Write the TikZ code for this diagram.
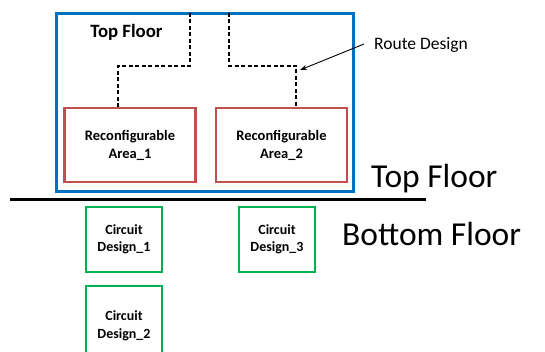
\documentclass[tikz,border=0pt]{standalone}
\usepackage{fontspec}
\setmainfont{Carlito}
\usetikzlibrary{arrows.meta}
\definecolor{floorblue}{HTML}{0070C0}
\definecolor{areared}{HTML}{C0504D}
\definecolor{circgreen}{HTML}{00B050}
\begin{document}
\begin{tikzpicture}[x=1pt,y=-1pt,
  floorbox/.style={draw=floorblue,line width=2.6pt,inner sep=0pt},
  areabox/.style={draw=areared,line width=2.6pt,minimum width=131pt,minimum height=74pt,
    align=center,font=\fontsize{14.5}{18}\selectfont\bfseries,inner sep=0pt},
  circbox/.style={draw=circgreen,line width=1.8pt,minimum width=76pt,minimum height=65pt,
    align=center,font=\fontsize{14}{17.5}\selectfont\bfseries,inner sep=0pt},
  route/.style={draw=black,line width=1.6pt,dash pattern=on 4pt off 2.5pt},
  floorlabel/.style={font=\fontsize{33.5}{36}\selectfont,inner sep=0pt}]
\useasboundingbox (0,0) rectangle (545,352);
\begin{scope}
\clip (0,0) rectangle (545,352);
% top floor frame
\node[floorbox,minimum width=297pt,minimum height=178pt] (top) at (205,102.5) {};
\node[font=\fontsize{18.8}{20}\selectfont\bfseries,inner sep=0pt] (toptitle) at (126.5,32) {Top Floor};
% reconfigurable areas
\node[areabox] (ra1) at (130,145) {Reconfigurable\\Area\_1};
\node[areabox] (ra2) at (281.5,145) {Reconfigurable\\Area\_2};
% route design wires
\coordinate (w1) at (190,13);
\coordinate (w2) at (229,13);
\draw[route] (w1) -- (190,66) -- (118,66) -- (ra1.north -| 118,0);
\draw[route] (w2) -- (229,66) -- (296,66) -- (ra2.north -| 296,0);
\node[font=\fontsize{17.5}{19}\selectfont,anchor=west,inner sep=0pt] (rd) at (374,45) {Route Design};
\coordinate (rdtip) at (300,70);
\draw[-{Stealth[length=7pt,width=5pt]},line width=0.9pt] (rd.west) ++(-10pt,1pt) coordinate (rdtail) (rdtail) -- (rdtip);
% floor divider
\coordinate (divl) at (10,199.5);
\coordinate (divr) at (426,199.5);
\draw[line width=2.6pt] (divl) -- (divr);
\node[floorlabel,anchor=west] (tf) at (371,179) {Top Floor};
\node[floorlabel,anchor=west] (bf) at (342,234) {Bottom Floor};
% circuit designs on the bottom floor
\node[circbox] (cd1) at (124,239.5) {Circuit\\Design\_1};
\node[circbox] (cd3) at (277,239.5) {Circuit\\Design\_3};
\node[circbox,minimum height=80pt] (cd2) at (124,326) {Circuit\\Design\_2};
\end{scope}
\end{tikzpicture}
\end{document}
